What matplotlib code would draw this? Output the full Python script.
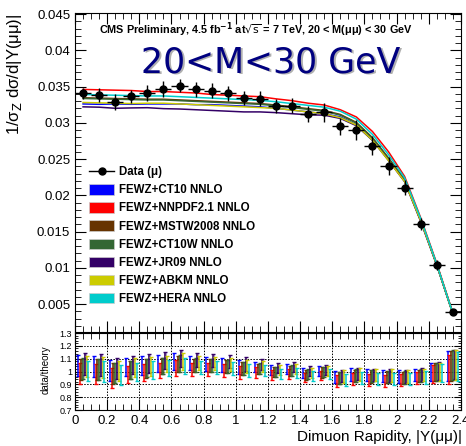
import numpy as np
import matplotlib
matplotlib.use("Agg")
import matplotlib.pyplot as plt
from matplotlib.lines import Line2D
from matplotlib.patches import Patch
from matplotlib.ticker import MultipleLocator

plt.rcParams['font.family'] = ['Liberation Sans', 'DejaVu Sans']

# bins of dimuon rapidity
y_centers = [0.05, 0.15, 0.25, 0.35, 0.45, 0.55, 0.65, 0.75, 0.85, 0.95, 1.05, 1.15,
             1.25, 1.35, 1.45, 1.55, 1.65, 1.75, 1.85, 1.95, 2.05, 2.15, 2.25, 2.35]
half_width = 0.05

# data (mu)
data = [0.03406, 0.03383, 0.03282, 0.03369, 0.03406, 0.03461, 0.03511, 0.03461,
        0.03442, 0.03406, 0.03341, 0.03332, 0.03231, 0.03235, 0.03117, 0.03144,
        0.02951, 0.02904, 0.02684, 0.02403, 0.02104, 0.01603, 0.01038, 0.00386]
data_err = [0.0008, 0.0009, 0.0011, 0.0009, 0.0011, 0.0011, 0.0009, 0.0010,
            0.0010, 0.0010, 0.0010, 0.0010, 0.0010, 0.0010, 0.0011, 0.0013,
            0.0012, 0.0014, 0.0013, 0.0013, 0.0010, 0.0008, 0.0007, 0.0003]

# FEWZ NNLO predictions
ct10 = [0.03260, 0.03255, 0.03260, 0.03255, 0.03260, 0.03260, 0.03260, 0.03250,
        0.03250, 0.03240, 0.03230, 0.03220, 0.03200, 0.03175, 0.03150, 0.03125,
        0.03080, 0.02970, 0.02760, 0.02490, 0.02190, 0.01650, 0.01040, 0.00370]
nnpdf = [0.03460, 0.03455, 0.03450, 0.03445, 0.03431, 0.03431, 0.03421, 0.03411,
         0.03390, 0.03380, 0.03370, 0.03360, 0.03330, 0.03305, 0.03270, 0.03245,
         0.03180, 0.03080, 0.02880, 0.02600, 0.02260, 0.01690, 0.01060, 0.00380]
mstw = [0.03345, 0.03340, 0.03335, 0.03330, 0.03325, 0.03325, 0.03315, 0.03305,
        0.03295, 0.03285, 0.03275, 0.03265, 0.03245, 0.03220, 0.03195, 0.03170,
        0.03115, 0.03005, 0.02795, 0.02515, 0.02215, 0.01665, 0.01045, 0.00370]
ct10w = [0.03335, 0.03330, 0.03325, 0.03320, 0.03315, 0.03315, 0.03305, 0.03295,
         0.03285, 0.03275, 0.03265, 0.03255, 0.03235, 0.03210, 0.03185, 0.03160,
         0.03105, 0.02995, 0.02785, 0.02505, 0.02205, 0.01655, 0.01040, 0.00368]
jr09 = [0.03220, 0.03215, 0.03200, 0.03205, 0.03208, 0.03195, 0.03190, 0.03180,
        0.03170, 0.03160, 0.03150, 0.03150, 0.03140, 0.03125, 0.03110, 0.03105,
        0.03060, 0.02960, 0.02760, 0.02480, 0.02190, 0.01640, 0.01035, 0.00366]
abkm = [0.03280, 0.03275, 0.03270, 0.03265, 0.03270, 0.03270, 0.03260, 0.03250,
        0.03240, 0.03230, 0.03220, 0.03210, 0.03200, 0.03175, 0.03150, 0.03125,
        0.03070, 0.02970, 0.02760, 0.02480, 0.02190, 0.01650, 0.01040, 0.00368]
hera = [0.03390, 0.03385, 0.03380, 0.03375, 0.03370, 0.03370, 0.03360, 0.03350,
        0.03340, 0.03330, 0.03320, 0.03310, 0.03290, 0.03265, 0.03240, 0.03215,
        0.03160, 0.03050, 0.02840, 0.02560, 0.02240, 0.01680, 0.01050, 0.00372]

# uncertainty shown on data/theory
ratio_err = [0.08, 0.08, 0.08, 0.07, 0.07, 0.06, 0.06, 0.05, 0.05, 0.05, 0.05, 0.04,
             0.04, 0.04, 0.04, 0.04, 0.05, 0.05, 0.05, 0.05, 0.05, 0.05, 0.07, 0.11]

labels = ["FEWZ+CT10 NNLO", "FEWZ+NNPDF2.1 NNLO", "FEWZ+MSTW2008 NNLO",
          "FEWZ+CT10W NNLO", "FEWZ+JR09 NNLO", "FEWZ+ABKM NNLO", "FEWZ+HERA NNLO"]
colors = ["#0000ff", "#ff0000", "#663300", "#336633", "#330066", "#cccc00", "#00cccc"]
theories = [ct10, nnpdf, mstw, ct10w, jr09, abkm, hera]

fig = plt.figure(figsize=(4.66, 4.46), dpi=100)
ax = fig.add_axes([0.161, 0.2556, 0.828, 0.7152])
axr = fig.add_axes([0.161, 0.0807, 0.828, 0.1726], sharex=ax)

x = np.array(y_centers)

# theory curves
for th, c in zip(theories, colors):
    ax.plot(x, th, color=c, lw=1.1, zorder=2)

ax.errorbar(x, data, yerr=data_err, xerr=half_width, fmt='o', color='black',
            ms=5, elinewidth=1.0, capsize=0, zorder=5)

ax.set_xlim(0, 2.4)
ax.set_ylim(0.00114, 0.04514)
ax.yaxis.set_major_locator(MultipleLocator(0.005))
ax.yaxis.set_minor_locator(MultipleLocator(0.001))
ax.xaxis.set_major_locator(MultipleLocator(0.2))
ax.xaxis.set_minor_locator(MultipleLocator(0.05))
ax.tick_params(which='both', direction='in', top=True, right=True, labelsize=9.5)
ax.tick_params(which='major', length=8)
ax.tick_params(which='minor', length=4)
ax.tick_params(axis='x', labelbottom=False)
ax.set_yticks([0.005, 0.01, 0.015, 0.02, 0.025, 0.03, 0.035, 0.04, 0.045])
ax.set_yticklabels(["0.005", "0.01", "0.015", "0.02", "0.025", "0.03", "0.035", "0.04", "0.045"])

ax.text(0.469, 0.947, "CMS Preliminary, 4.5 fb$^{\\mathbf{-1}}$ at$\\sqrt{\\mathrm{s}}$ = 7 TeV, 20 < M(μμ) < 30 GeV",
        transform=ax.transAxes, ha='center', va='center', fontsize=7.8, fontweight='bold')
ax.text(0.511, 0.843, "20<M<30 GeV", transform=ax.transAxes, ha='center', va='center',
        fontsize=25, color='#b0b0b0', family='DejaVu Sans')
ax.text(0.508, 0.846, "20<M<30 GeV", transform=ax.transAxes, ha='center', va='center',
        fontsize=25, color='#000080', family='DejaVu Sans')

handles = [Line2D([0], [0], color='black', marker='o', ms=5, lw=1.0)]
handles += [Patch(facecolor=c, edgecolor='#cccccc', lw=0.5) for c in colors]
ax.legend(handles, ["Data (μ)"] + labels, loc='upper left', bbox_to_anchor=(0.036, 0.52),
          frameon=False, prop={'size': 8.3, 'weight': 'bold'}, handlelength=2.2,
          handleheight=1.0, handletextpad=0.45, labelspacing=0.52, borderpad=0,
          borderaxespad=0)

# ratio panel
offsets = np.linspace(-0.033, 0.033, 7)
d = np.array(data)
re = np.array(ratio_err)
for i, (th, c) in enumerate(zip(theories, colors)):
    r = d / np.array(th)
    xs = x + offsets[i]
    if i in (2, 3, 4):
        axr.bar(xs, 2 * re * r, bottom=r - re * r, width=0.011, color=c, alpha=0.3,
                edgecolor=c, lw=0.6, zorder=2)
    axr.errorbar(xs, r, yerr=re * r, fmt='none', ecolor=c, elinewidth=1.1,
                 capsize=1.5, capthick=1.0, zorder=3)

axr.set_ylim(0.7, 1.3)
axr.yaxis.set_major_locator(MultipleLocator(0.1))
axr.yaxis.set_minor_locator(MultipleLocator(0.02))
axr.set_yticks([0.7, 0.8, 0.9, 1.0, 1.1, 1.2, 1.3])
axr.set_yticklabels(["0.7", "0.8", "0.9", "1", "1.1", "1.2", "1.3"])
axr.set_xticks([0, 0.2, 0.4, 0.6, 0.8, 1.0, 1.2, 1.4, 1.6, 1.8, 2.0, 2.2, 2.4])
axr.set_xticklabels(["0", "0.2", "0.4", "0.6", "0.8", "1", "1.2", "1.4", "1.6", "1.8", "2", "2.2", "2.4"])
axr.tick_params(which='both', direction='in', top=True, right=True)
axr.tick_params(axis='y', which='major', length=5, labelsize=6.5, pad=2)
axr.tick_params(axis='y', which='minor', length=2.5)
axr.tick_params(axis='x', which='major', length=8, labelsize=9.5)
axr.tick_params(axis='x', which='minor', length=4)
axr.grid(True, which='major', color='black', linestyle=(0, (1.5, 1.5)), lw=0.7)

fig.text(15 / 466, 1 - 14 / 446, "1/σ$_{\\mathrm{Z}}$ dσ/d|Y(μμ)|", rotation=90,
         ha='center', va='top', fontsize=12)
fig.text(46 / 466, 1 - 370 / 446, "data/theory", rotation=90, ha='center', va='center',
         fontsize=7)
fig.text(462 / 466, 1 - 437 / 446, "Dimuon Rapidity, |Y(μμ)|", ha='right', va='center',
         fontsize=11)

fig.savefig("out.png", dpi=100)
